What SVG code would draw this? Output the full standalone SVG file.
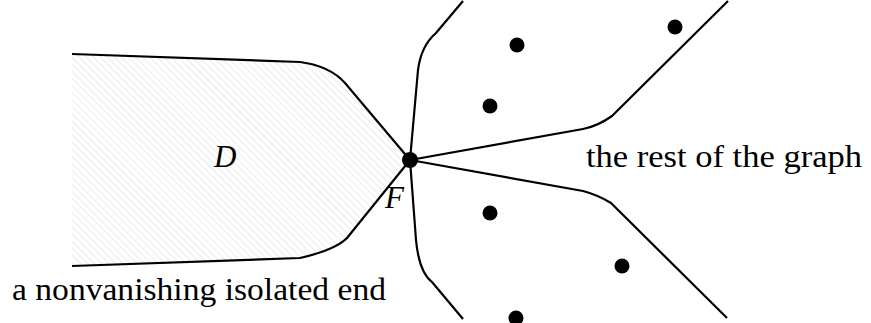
<svg xmlns="http://www.w3.org/2000/svg" width="871" height="323" viewBox="0 0 871 323">
<style>
.ln{fill:none;stroke:#000;stroke-width:2.2;stroke-linejoin:round;stroke-linecap:butt}
.dot{fill:#000}
.t{font-family:'Liberation Serif','Times New Roman',serif;font-size:31px;fill:#000}
.it{font-style:italic}
</style>
<defs>
<pattern id="hatch" patternUnits="userSpaceOnUse" width="5" height="5" patternTransform="rotate(-45)">
<line x1="0" y1="0" x2="0" y2="5" stroke="#dedede" stroke-width="1.2"/>
</pattern>
</defs>
<g id="region-D">
<path d="M72,54 L300,62 Q330,66 345,83 L410,160 L347,238 Q335,250 300,258 L72,266 Z" fill="url(#hatch)" stroke="none"/>
</g>
<g id="connectors">
<path class="ln" d="M72,54 L300,62 Q330,66 345,83 L410,160 L347,238 Q335,250 300,258 L72,266"/>
<path class="ln" d="M463,1 L436,33 Q421,46 418,70 L410,160 L416,240 Q419,272 432,282 L463,319"/>
<path class="ln" d="M410,160 L583,129 Q598,126 612,116 L728,1"/>
<path class="ln" d="M410,160 L583,191 Q598,195 611,203 L727,318"/>
</g>
<g id="F"><circle class="dot" cx="410" cy="160" r="8"/></g>
<g id="v1"><circle class="dot" cx="517" cy="45" r="7.5"/></g>
<g id="v2"><circle class="dot" cx="675" cy="27" r="7.5"/></g>
<g id="v3"><circle class="dot" cx="490" cy="106" r="7.5"/></g>
<g id="v4"><circle class="dot" cx="490" cy="213" r="7.5"/></g>
<g id="v5"><circle class="dot" cx="622" cy="266" r="7.5"/></g>
<g id="v6"><circle class="dot" cx="516" cy="318" r="7.5"/></g>
<g id="labels">
<text class="t it" x="214" y="167">D</text>
<text class="t it" x="385" y="208">F</text>
<text class="t" x="586" y="167" textLength="276" lengthAdjust="spacingAndGlyphs">the rest of the graph</text>
<text class="t" x="12" y="300" textLength="374" lengthAdjust="spacingAndGlyphs">a nonvanishing isolated end</text>
</g>
</svg>
